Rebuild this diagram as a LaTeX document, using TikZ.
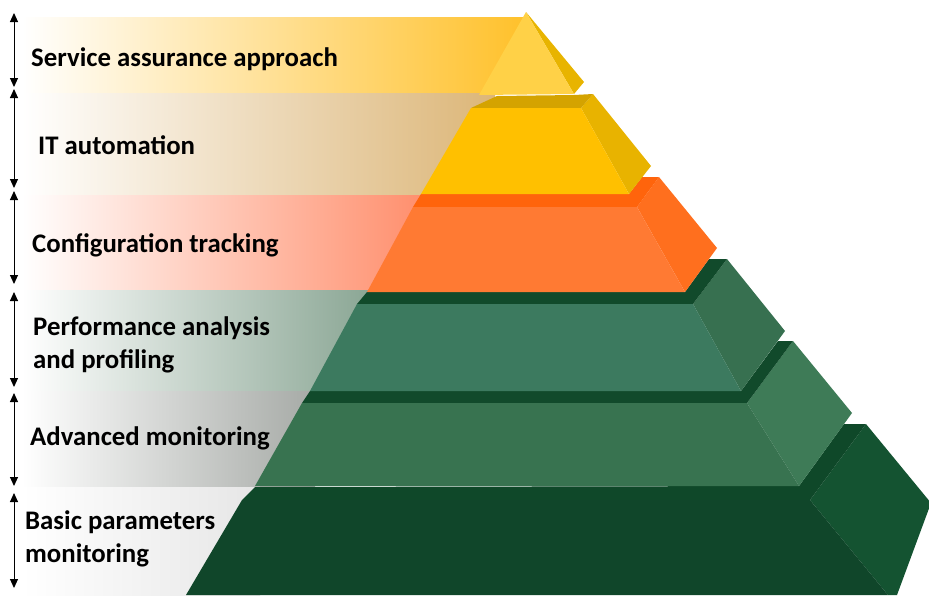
\documentclass[tikz,border=0pt]{standalone}
\usepackage{fontspec}
\setmainfont{Carlito}
\usetikzlibrary{arrows.meta}
\newlength{\du}
\setlength{\du}{1pt}

\begin{document}
\begin{tikzpicture}[
  lbl/.style={anchor=base west, inner sep=0pt, align=left,
    font=\fontsize{26.8\du}{33\du}\selectfont\bfseries},
  span/.style={arrows={Triangle[length=9pt,width=8pt]-Triangle[length=9pt,width=8pt]}, line width=1pt},
  face/.style={draw=none}
]
\pgftransformxscale{1.000000}
\pgftransformyscale{-1.000000}
\useasboundingbox (0\du,0\du) rectangle (929\du,595\du);
\definecolor{bandone}{HTML}{FFC12B}
\definecolor{bandtwo}{HTML}{DCB678}
\definecolor{bandthree}{HTML}{FF8E6C}
\definecolor{bandfour}{HTML}{8AA694}
\definecolor{bandfive}{HTML}{A6AAA6}
\definecolor{bandsix}{HTML}{E6E6E6}
% bands
\shade[left color=white, middle color=bandone!35!white, right color=bandone] (22\du,17\du) rectangle (524\du,93\du);
\shade[left color=white, middle color=bandtwo!30!white, right color=bandtwo] (22\du,93\du) rectangle (495\du,195\du);
\shade[left color=white, middle color=bandthree!20!white, right color=bandthree] (22\du,195\du) rectangle (425\du,290\du);
\shade[left color=white, middle color=bandfour!25!white, right color=bandfour] (22\du,290\du) rectangle (372\du,391\du);
\shade[left color=white, middle color=bandfive!35!white, right color=bandfive] (22\du,391\du) rectangle (315\du,487\du);
\shade[left color=white, right color=bandsix] (22\du,487\du) rectangle (260\du,595\du);
% layer 6
\definecolor{pyrfront}{HTML}{10462A}
\definecolor{pyrtop}{HTML}{0F4829}
\definecolor{pyrside}{HTML}{145331}
\fill[face, pyrside] (810\du,500\du)--(866\du,424\du)--(931\du,503\du)--(897\du,595\du)--(888\du,595\du)--cycle;
\fill[face, pyrtop] (242\du,500\du)--(255\du,487\du)--(799\du,486\du)--(844\du,424\du)--(866\du,424\du)--(810\du,500\du)--cycle;
\fill[face, pyrfront] (242\du,500\du)--(810\du,500\du)--(888\du,595\du)--(186\du,595\du)--cycle;
% layer 5
\definecolor{pyrfront}{HTML}{387350}
\definecolor{pyrtop}{HTML}{114A2B}
\definecolor{pyrside}{HTML}{3E7B57}
\fill[face, pyrside] (747\du,403\du)--(793\du,341\du)--(852\du,413\du)--(799\du,486\du)--cycle;
\fill[face, pyrtop] (302\du,403\du)--(310\du,391\du)--(741\du,391\du)--(778\du,341\du)--(793\du,341\du)--(747\du,403\du)--cycle;
\fill[face, pyrfront] (302\du,403\du)--(747\du,403\du)--(799\du,486\du)--(255\du,486\du)--cycle;
% layer 4
\definecolor{pyrfront}{HTML}{3C7A5F}
\definecolor{pyrtop}{HTML}{114A2B}
\definecolor{pyrside}{HTML}{377050}
\fill[face, pyrside] (693\du,304\du)--(727\du,259\du)--(785\du,331\du)--(741\du,391\du)--cycle;
\fill[face, pyrtop] (357\du,304\du)--(367\du,292\du)--(685\du,292\du)--(709\du,259\du)--(727\du,259\du)--(693\du,304\du)--cycle;
\fill[face, pyrfront] (357\du,304\du)--(693\du,304\du)--(741\du,391\du)--(310\du,391\du)--cycle;
% layer 3
\definecolor{pyrfront}{HTML}{FF7A33}
\definecolor{pyrtop}{HTML}{FF640C}
\definecolor{pyrside}{HTML}{FF6F1E}
\fill[face, pyrside] (637\du,207\du)--(659\du,177\du)--(717\du,248\du)--(685\du,292\du)--cycle;
\fill[face, pyrtop] (413\du,207\du)--(421\du,194\du)--(629\du,194\du)--(642\du,177\du)--(659\du,177\du)--(637\du,207\du)--cycle;
\fill[face, pyrfront] (413\du,207\du)--(637\du,207\du)--(685\du,292\du)--(367\du,292\du)--cycle;
% layer 2
\definecolor{pyrfront}{HTML}{FFC000}
\definecolor{pyrtop}{HTML}{D4A300}
\definecolor{pyrside}{HTML}{E8B300}
\fill[face, pyrside] (581\du,108\du)--(593\du,94\du)--(651\du,166\du)--(629\du,194\du)--cycle;
\fill[face, pyrtop] (471\du,108\du)--(497\du,96\du)--(574\du,95\du)--(593\du,94\du)--(581\du,108\du)--cycle;
\fill[face, pyrfront] (471\du,108\du)--(581\du,108\du)--(629\du,194\du)--(421\du,194\du)--cycle;
% layer 1
\definecolor{pyrfront}{HTML}{FFD147}
\definecolor{pyrside}{HTML}{E8B400}
\fill[face, pyrside] (526\du,12\du)--(584\du,82\du)--(574\du,94\du)--cycle;
\fill[face, pyrfront] (526\du,12\du)--(574\du,94\du)--(479\du,95\du)--cycle;
% setfont left to latex
\node[lbl] (service) at (31\du,66\du){Service assurance approach};
\node[lbl] (itauto) at (38\du,154\du){IT automation};
\node[lbl] (config) at (32\du,252\du){Configuration tracking};
\node[lbl] (perf) at (33\du,368\du){Performance analysis\\and profiling};
\node[lbl] (advmon) at (30\du,445\du){Advanced monitoring};
\node[lbl] (basic) at (25\du,562\du){Basic parameters\\monitoring};
% spans
\coordinate (s1t) at (14\du,13\du);
\coordinate (s1b) at (14\du,87\du);
\coordinate (s2t) at (14\du,89\du);
\coordinate (s2b) at (14\du,188\du);
\coordinate (s3t) at (14\du,191\du);
\coordinate (s3b) at (14\du,284\du);
\coordinate (s4t) at (14\du,292\du);
\coordinate (s4b) at (14\du,387\du);
\coordinate (s5t) at (14\du,393\du);
\coordinate (s5b) at (14\du,486\du);
\coordinate (s6t) at (14\du,493\du);
\coordinate (s6b) at (14\du,588\du);
\draw[span] (s1t)--(s1b);
\draw[span] (s2t)--(s2b);
\draw[span] (s3t)--(s3b);
\draw[span] (s4t)--(s4b);
\draw[span] (s5t)--(s5b);
\draw[span] (s6t)--(s6b);
\end{tikzpicture}
\end{document}
